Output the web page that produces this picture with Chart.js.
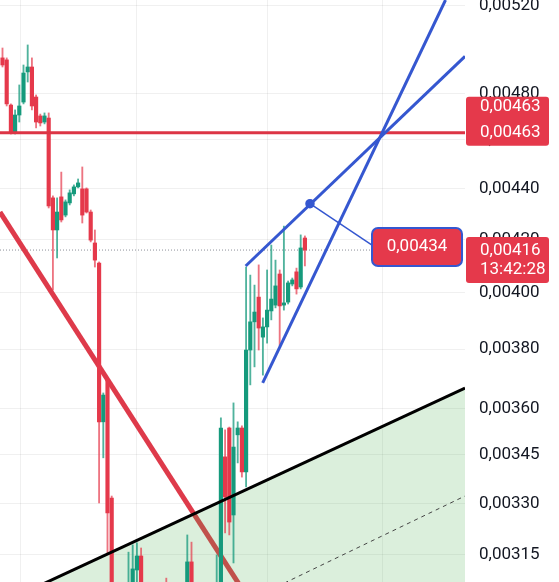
<!DOCTYPE html>
<html lang="en">
<head>
    <meta charset="UTF-8">
    <title>Wedge chart</title>
    <script src="https://cdn.jsdelivr.net/npm/chart.js@4.4.1/dist/chart.umd.min.js"></script>
    <style>
        html, body { margin: 0; padding: 0; background: #fff; }
        #chartContainer { position: relative; width: 559px; height: 582px; }
    </style>
    <script>
        // Candles (one slot per candle, left to right)
        const opens = [0.004958, 0.004949, 0.004749, 0.004634, 0.004706, 0.004762, 0.004895, 0.004917, 0.004784, 0.004702,
            0.004676, 0.004693, 0.004363, 0.004237, 0.004367, 0.004295, 0.004343, 0.004379, 0.004407, 0.004399,
            0.004399, 0.004307, 0.004187, 0.004111, 0.003556, 0.003695, 0.003317, 0.002914, 0.002935, 0.002975,
            0.002960, 0.003022, 0.003106, 0.003146, 0.003022, 0.002985, 0.003010, 0.002990, 0.002965, 0.003050,
            0.002995, 0.003015, 0.003040, 0.003005, 0.003030, 0.003129, 0.003022, 0.002995, 0.003020, 0.003000,
            0.003030, 0.003010, 0.003045, 0.003444, 0.003536, 0.003266, 0.003514, 0.003536, 0.003397, 0.003797,
            0.003896, 0.003985, 0.003842, 0.003878, 0.003935, 0.003956, 0.004070, 0.003956, 0.003967, 0.004033,
            0.004078, 0.004022, 0.004206];
        const highs = [0.005003, 0.004958, 0.004754, 0.004728, 0.004837, 0.004926, 0.005017, 0.004958, 0.004793, 0.004710,
            0.004715, 0.004715, 0.004371, 0.004363, 0.004467, 0.004355, 0.004395, 0.004415, 0.004439, 0.004488,
            0.004403, 0.004315, 0.004237, 0.004115, 0.003651, 0.003701, 0.003323, 0.002960, 0.002990, 0.003040,
            0.003157, 0.003178, 0.003184, 0.003169, 0.003050, 0.003030, 0.003045, 0.003020, 0.003040, 0.003083,
            0.003035, 0.003055, 0.003060, 0.003050, 0.003207, 0.003186, 0.003060, 0.003045, 0.003055, 0.003040,
            0.003062, 0.003149, 0.003569, 0.003530, 0.003539, 0.003618, 0.003556, 0.003543, 0.004096, 0.004066,
            0.004029, 0.004104, 0.003910, 0.004085, 0.004179, 0.004122, 0.004085, 0.004252, 0.004044, 0.004055,
            0.004092, 0.004218, 0.004214];
        const lows = [0.004917, 0.004745, 0.004625, 0.004625, 0.004676, 0.004754, 0.004850, 0.004728, 0.004651, 0.004659,
            0.004668, 0.004323, 0.004011, 0.004130, 0.004268, 0.004288, 0.004335, 0.004371, 0.004403, 0.004264,
            0.004303, 0.004191, 0.004096, 0.003302, 0.003441, 0.003155, 0.002861, 0.002870, 0.002900, 0.002945,
            0.002940, 0.002995, 0.003064, 0.002995, 0.002960, 0.002950, 0.002975, 0.002940, 0.002950, 0.002967,
            0.002960, 0.002985, 0.002990, 0.002980, 0.003010, 0.002990, 0.002980, 0.002965, 0.002985, 0.002970,
            0.002995, 0.002990, 0.003030, 0.003213, 0.003207, 0.003126, 0.003425, 0.003381, 0.003351, 0.003678,
            0.003739, 0.003797, 0.003711, 0.003821, 0.003903, 0.003946, 0.003811, 0.003938, 0.003960, 0.004026,
            0.003996, 0.004015, 0.004100];
        const closes = [0.004926, 0.004754, 0.004629, 0.004706, 0.004745, 0.004890, 0.004917, 0.004745, 0.004676, 0.004672,
            0.004702, 0.004331, 0.004237, 0.004307, 0.004276, 0.004347, 0.004383, 0.004407, 0.004423, 0.004295,
            0.004307, 0.004198, 0.004122, 0.003556, 0.003644, 0.003272, 0.002914, 0.002935, 0.002975, 0.002960,
            0.003022, 0.003109, 0.003146, 0.003022, 0.002985, 0.003010, 0.002990, 0.002965, 0.003025, 0.002995,
            0.003015, 0.003040, 0.003005, 0.003030, 0.003129, 0.003022, 0.002995, 0.003020, 0.003000, 0.003030,
            0.003010, 0.003045, 0.003536, 0.003320, 0.003245, 0.003475, 0.003536, 0.003397, 0.003797, 0.003896,
            0.003931, 0.003874, 0.003878, 0.003938, 0.003978, 0.004026, 0.003953, 0.003964, 0.004037, 0.004048,
            0.004015, 0.004168, 0.004160];

        // Price axis
        const yTicks = [0.00315, 0.0033, 0.00345, 0.0036, 0.0038, 0.004, 0.0042, 0.0044, 0.0046, 0.0048, 0.0052];
        const yMin = 0.0030721;
        const yMax = 0.0052272;
        const xMin = -0.595;
        const xMax = 110.12;
        const xGridTicks = [4.17, 32.0, 63.2, 90.36];

        // Drawings
        const resistance = 0.00463;
        const lastPrice = 0.00416;
        const lastTime = '13:42:28';
        const redTrendX = [-0.6, 58.9];
        const redTrendY = [0.004307, 0.003019];
        const upperWedgeX = [57.9, 110.12];
        const upperWedgeY = [0.004100, 0.004965];
        const lowerWedgeX = [61.95, 105.48];
        const lowerWedgeY = [0.003685, 0.0052272];
        const markerX = [73.21, 87.98];
        const markerY = [0.00434, 0.004179];
        const markerLabel = 0.00434;
        const supportX = [6.55, 110.12];
        const supportY = [0.0030497, 0.0036676];
        const channelX = [63.69, 110.12];
        const channelY = [0.0030498, 0.0033231];

        const UP = '#159a7c';
        const DOWN = '#e5394b';
        const BLUE = '#3557d0';

        const fmt = v => v.toFixed(5).replace('.', ',');
        const pts = (xs, ys) => xs.map((x, i) => ({ x: x, y: ys[i] }));

        const labelPlugin = {
            id: 'priceLabels',
            afterDraw(chart) {
                const ctx = chart.ctx;
                const y = chart.scales.y;
                const x = chart.scales.x;
                const right = chart.chartArea.right;
                ctx.save();
                ctx.font = '17px Roboto';
                ctx.textBaseline = 'middle';
                ctx.textAlign = 'left';
                ctx.fillStyle = '#131722';
                yTicks.forEach(v => ctx.fillText(fmt(v), right + 14, y.getPixelForValue(v)));

                // resistance label
                let py = y.getPixelForValue(resistance);
                ctx.fillStyle = DOWN;
                ctx.beginPath();
                ctx.roundRect(right + 1, py - 36, 83, 49, 3);
                ctx.fill();
                ctx.fillStyle = '#fff';
                ctx.fillText(fmt(resistance), right + 15, py - 26);
                ctx.fillText(fmt(resistance), right + 15, py);

                // last price label
                py = y.getPixelForValue(lastPrice);
                ctx.fillStyle = DOWN;
                ctx.beginPath();
                ctx.roundRect(right + 1, py - 13, 83, 46, 3);
                ctx.fill();
                ctx.fillStyle = '#fff';
                ctx.fillText(fmt(lastPrice), right + 15, py + 1);
                ctx.fillText(lastTime, right + 15, py + 20);

                // marker label
                const mx = x.getPixelForValue(markerX[1]);
                const my = y.getPixelForValue(markerY[1]);
                ctx.fillStyle = DOWN;
                ctx.strokeStyle = BLUE;
                ctx.lineWidth = 2;
                ctx.beginPath();
                ctx.roundRect(mx, my - 17, 90, 38, 6);
                ctx.fill();
                ctx.stroke();
                ctx.fillStyle = '#fff';
                ctx.textAlign = 'center';
                ctx.fillText(fmt(markerLabel), mx + 45, my + 2);
                ctx.restore();
            }
        };

        function drawChart() {
            const idx = opens.map((_, i) => i);
            const colors = idx.map(i => closes[i] >= opens[i] ? UP : DOWN);
            const wickColors = idx.map(i => closes[i] >= opens[i] ? 'rgba(21,154,124,0.75)' : 'rgba(229,57,75,0.7)');
            const bodies = idx.map(i => ({ x: i, y: [opens[i], closes[i]] }));
            const wicks = idx.map(i => ({ x: i, y: [lows[i], highs[i]] }));
            const lineBase = { type: 'line', pointRadius: 0, fill: false, tension: 0 };

            new Chart(document.getElementById('chart'), {
                type: 'bar',
                data: {
                    datasets: [
                        { ...lineBase, data: pts(upperWedgeX, upperWedgeY), borderColor: BLUE, borderWidth: 3, order: 0 },
                        { ...lineBase, data: pts(lowerWedgeX, lowerWedgeY), borderColor: BLUE, borderWidth: 3, order: 0 },
                        {
                            ...lineBase, data: pts(markerX, markerY), borderColor: BLUE, borderWidth: 1.5,
                            pointRadius: [4, 0], pointBackgroundColor: BLUE, pointBorderColor: BLUE, order: 0
                        },
                        { ...lineBase, data: pts([xMin, xMax], [resistance, resistance]), borderColor: '#dc3545', borderWidth: 3, order: 1 },
                        { ...lineBase, data: pts(supportX, supportY), borderColor: '#000', borderWidth: 3, order: 1 },
                        { ...lineBase, data: pts(channelX, channelY), borderColor: '#444', borderWidth: 1, borderDash: [4, 4], order: 2 },
                        { data: bodies, backgroundColor: colors, barThickness: 3.5, grouped: false, order: 3 },
                        { data: wicks, backgroundColor: wickColors, barThickness: 1.2, grouped: false, order: 4 },
                        {
                            ...lineBase, data: pts(supportX, supportY), borderWidth: 0, fill: 'start',
                            backgroundColor: 'rgba(76,175,80,0.2)', order: 5
                        },
                        { ...lineBase, data: pts(redTrendX, redTrendY), borderColor: '#de3a4a', borderWidth: 5, order: 6 },
                        {
                            ...lineBase, data: pts([xMin, xMax], [lastPrice, lastPrice]), borderColor: '#8d9099',
                            borderWidth: 1, borderDash: [1, 2], order: 7
                        }
                    ]
                },
                options: {
                    responsive: true,
                    maintainAspectRatio: false,
                    animation: false,
                    layout: { padding: 0, autoPadding: false },
                    plugins: { legend: { display: false }, tooltip: { enabled: false } },
                    scales: {
                        x: {
                            type: 'linear',
                            min: xMin,
                            max: xMax,
                            offset: false,
                            grid: { offset: false, color: 'rgba(0,0,0,0.06)', drawTicks: false },
                            border: { display: false },
                            ticks: { display: false },
                            afterBuildTicks: s => { s.ticks = xGridTicks.map(v => ({ value: v })); },
                            afterFit: s => { s.height = 0; }
                        },
                        y: {
                            type: 'logarithmic',
                            position: 'right',
                            min: yMin,
                            max: yMax,
                            grid: { color: 'rgba(0,0,0,0.06)', drawTicks: false },
                            border: { display: false },
                            ticks: { display: false },
                            afterBuildTicks: s => { s.ticks = yTicks.map(v => ({ value: v })); },
                            afterFit: s => { s.width = 94; }
                        }
                    }
                },
                plugins: [labelPlugin]
            });
        }

        window.onload = function () {
            drawChart();
        }
    </script>
</head>
<body>
    <div id="chartContainer">
        <canvas id="chart"></canvas>
    </div>
</body>
</html>
